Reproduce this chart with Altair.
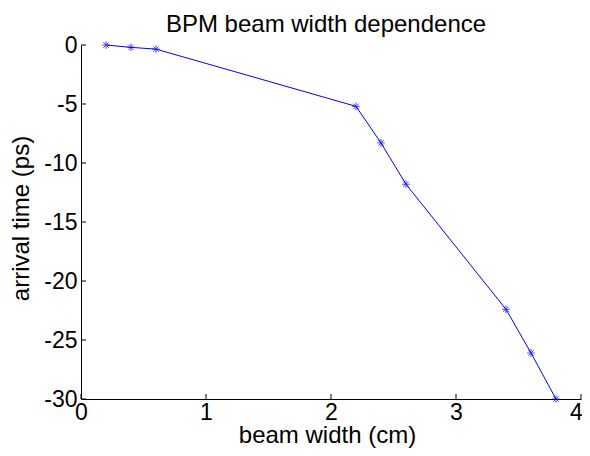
import altair as alt
import pandas as pd

width_cm = [0.2, 0.4, 0.6, 2.2, 2.4, 2.6, 3.4, 3.6, 3.8]
arrival_ps = [0.0, -0.2, -0.35, -5.2, -8.3, -11.8, -22.4, -26.1, -30.0]
x_ticks = [0, 1, 2, 3, 4]
y_ticks = [-30, -25, -20, -15, -10, -5, 0]

df = pd.DataFrame({"w": width_cm, "t": arrival_ps})
W, H = 500, 354
FONT = "Liberation Sans"
LFS = 23
TFS = 24

xs = alt.Scale(domain=[0, 4], nice=False, zero=False)
ys = alt.Scale(domain=[-30, 0], nice=False, zero=False)

label_expr = "replace(format(datum.value, 'd'), '\u2212', '-')"

line = alt.Chart(df).mark_line(color="#0000FF", strokeWidth=1, clip=False).encode(
    x=alt.X("w:Q", scale=xs, axis=alt.Axis(
        values=x_ticks, labelExpr=label_expr, ticks=False, grid=False, domainColor="black", domainWidth=1,
        labelFont=FONT, labelFontSize=LFS, labelColor="black", labelPadding=2,
        labelOffset={"condition": {"test": "datum.value === 4", "value": -5}, "value": 0},
        title="beam width (cm)", titleFont=FONT, titleFontSize=TFS, titleFontWeight="normal",
        titleColor="black", titleX=W / 2 - 4, titleY=43, titleBaseline="alphabetic",
        titleAlign="center", labelFlush=False, labelOverlap=False)),
    y=alt.Y("t:Q", scale=ys, axis=alt.Axis(
        values=y_ticks, labelExpr=label_expr, ticks=False, grid=False, domainColor="black", domainWidth=1,
        labelFont=FONT, labelFontSize=LFS, labelColor="black", labelPadding=4,
        title="arrival time (ps)", titleFont=FONT, titleFontSize=TFS, titleFontWeight="normal",
        titleColor="black", titleX=-60, titleY=173, titleAngle=-90, titleAlign="center",
        titleBaseline="middle", labelFlush=False, labelOverlap=False)),
)

star = "M-1,0L1,0M0,-1L0,1M-0.7,-0.7L0.7,0.7M-0.7,0.7L0.7,-0.7"
pts = alt.Chart(df).mark_point(shape=star, filled=False, color="#0000FF", size=60, strokeWidth=1, clip=False).encode(
    x=alt.X("w:Q", scale=xs), y=alt.Y("t:Q", scale=ys))

xt = alt.Chart(pd.DataFrame({"v": x_ticks})).mark_rule(color="black", strokeWidth=1).encode(
    x=alt.X("v:Q", scale=xs), y=alt.value(H), y2=alt.value(H - 5))
yt = alt.Chart(pd.DataFrame({"v": y_ticks})).mark_rule(color="black", strokeWidth=1).encode(
    y=alt.Y("v:Q", scale=ys), x=alt.value(0), x2=alt.value(5))

chart = alt.layer(line, pts, xt, yt).properties(
    width=W, height=H, background="white",
    title=alt.TitleParams("BPM beam width dependence", font=FONT, fontSize=TFS,
                          fontWeight="normal", color="black", offset=0, dx=-5, dy=3),
    autosize=alt.AutoSizeParams(type="none"),
    padding={"left": 73, "top": 37, "right": 1, "bottom": 49},
).configure_view(stroke="transparent", strokeWidth=0)

chart.save("out.html", embed_options={"renderer": "svg", "actions": False})
